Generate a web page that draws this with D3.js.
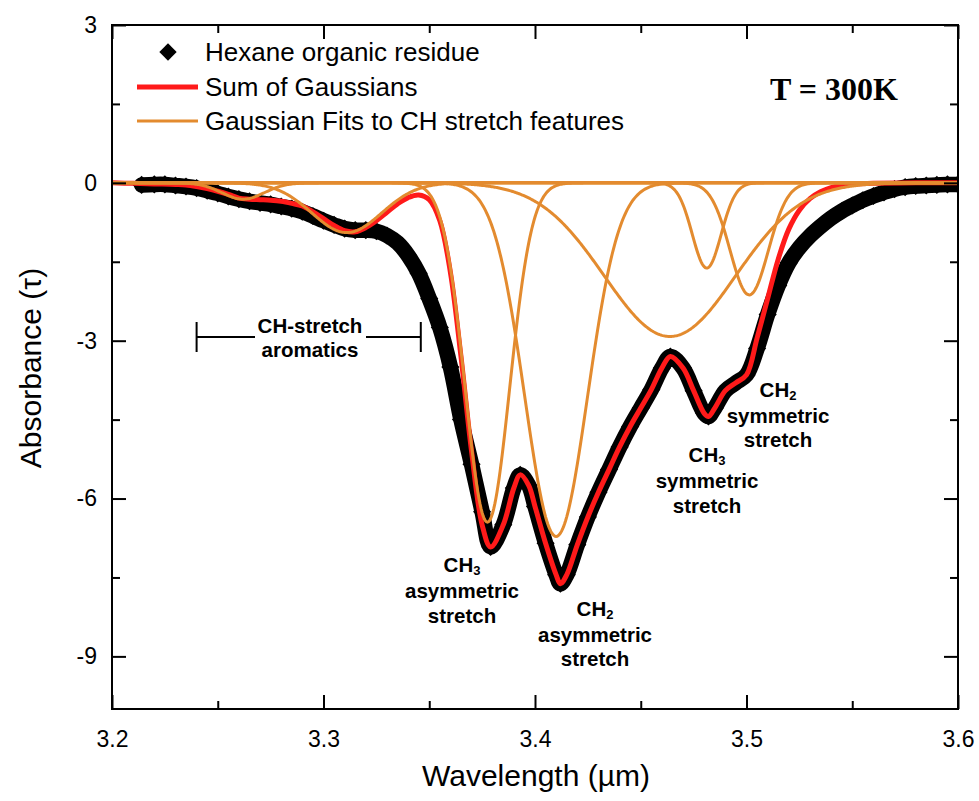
<!DOCTYPE html>
<html>
<head>
<meta charset="utf-8">
<script src="https://cdn.jsdelivr.net/npm/d3@7"></script>
<style>
  body { margin: 0; background: #fff; }
  svg { display: block; }
  text { font-family: "Liberation Sans", Arial, sans-serif; fill: #000; }
</style>
</head>
<body>
<svg id="chart" width="979" height="801"></svg>
<script>
// Measured spectrum of the hexane organic residue (optical depth vs wavelength, µm)
const dataWavelength = [3.214, 3.220, 3.225, 3.230, 3.235, 3.240, 3.245, 3.250, 3.255, 3.260,
  3.265, 3.270, 3.275, 3.280, 3.285, 3.290, 3.295, 3.300, 3.305, 3.310,
  3.315, 3.320, 3.325, 3.330, 3.335, 3.340, 3.345, 3.350, 3.355, 3.360,
  3.365, 3.370, 3.375, 3.379, 3.385, 3.390, 3.393, 3.397, 3.400, 3.405,
  3.410, 3.412, 3.415, 3.420, 3.425, 3.430, 3.435, 3.440, 3.445, 3.450,
  3.455, 3.460, 3.464, 3.470, 3.475, 3.480, 3.482, 3.485, 3.490, 3.495,
  3.500, 3.505, 3.510, 3.515, 3.520, 3.525, 3.530, 3.535, 3.540, 3.545,
  3.550, 3.555, 3.560, 3.565, 3.570, 3.575, 3.580, 3.585, 3.590, 3.595, 3.600];
const dataAbsorbance = [-0.04, -0.03, -0.03, -0.05, -0.07, -0.10, -0.15, -0.20, -0.26, -0.31,
  -0.35, -0.38, -0.41, -0.45, -0.49, -0.55, -0.63, -0.72, -0.80, -0.87,
  -0.90, -0.90, -0.92, -1.00, -1.14, -1.38, -1.72, -2.20, -2.75, -3.50,
  -4.50, -5.35, -6.25, -6.92, -6.50, -5.80, -5.55, -5.75, -6.15, -6.85,
  -7.45, -7.62, -7.45, -6.88, -6.35, -5.88, -5.45, -5.02, -4.63, -4.28,
  -3.93, -3.52, -3.30, -3.52, -3.95, -4.38, -4.44, -4.28, -3.95, -3.80,
  -3.65, -3.15, -2.50, -1.95, -1.52, -1.23, -1.01, -0.83, -0.67, -0.54,
  -0.43, -0.33, -0.25, -0.18, -0.12, -0.08, -0.06, -0.05, -0.04, -0.03, -0.03];

// Sum of the Gaussian components
const sumWavelength = [3.200, 3.210, 3.220, 3.230, 3.235, 3.240, 3.245, 3.250, 3.255, 3.260,
  3.265, 3.270, 3.275, 3.280, 3.285, 3.290, 3.295, 3.300, 3.305, 3.310,
  3.315, 3.320, 3.325, 3.330, 3.335, 3.340, 3.345, 3.350, 3.355, 3.360,
  3.365, 3.370, 3.375, 3.379, 3.385, 3.390, 3.393, 3.397, 3.400, 3.405,
  3.410, 3.412, 3.415, 3.420, 3.425, 3.430, 3.435, 3.440, 3.445, 3.450,
  3.455, 3.460, 3.464, 3.470, 3.475, 3.480, 3.482, 3.485, 3.490, 3.495,
  3.500, 3.505, 3.510, 3.515, 3.520, 3.525, 3.530, 3.535, 3.540, 3.545,
  3.550, 3.560, 3.580, 3.600];
const sumAbsorbance = [0.00, -0.01, -0.02, -0.03, -0.04, -0.07, -0.11, -0.16, -0.22, -0.29,
  -0.31, -0.32, -0.33, -0.35, -0.39, -0.44, -0.55, -0.68, -0.81, -0.91,
  -0.93, -0.85, -0.72, -0.56, -0.40, -0.28, -0.23, -0.32, -0.72, -1.70,
  -3.30, -5.10, -6.50, -6.92, -6.50, -5.80, -5.55, -5.75, -6.15, -6.85,
  -7.45, -7.62, -7.45, -6.88, -6.35, -5.88, -5.45, -5.02, -4.63, -4.28,
  -3.93, -3.52, -3.30, -3.52, -3.95, -4.38, -4.44, -4.28, -3.95, -3.80,
  -3.65, -2.95, -2.20, -1.45, -0.88, -0.52, -0.30, -0.17, -0.09, -0.04,
  -0.02, -0.01, 0.00, 0.00];

// Individual Gaussian fits to the CH stretch features: centre (µm), depth (tau), sigma (µm)
const fitCenters = [3.262, 3.311, 3.3775, 3.410, 3.4638, 3.4812, 3.5013];
const fitDepths  = [-0.31, -0.945, -6.45, -6.72, -2.92, -1.62, -2.13];
const fitWidths  = [0.0100, 0.0165, 0.0105, 0.0148, 0.031, 0.0068, 0.0090];

// Axis ticks
const xMajorTicks = [3.2, 3.3, 3.4, 3.5, 3.6];
const xTickLabels = ["3.2", "3.3", "3.4", "3.5", "3.6"];
const xMinorTicks = [3.25, 3.35, 3.45, 3.55];
const yMajorTicks = [3, 0, -3, -6, -9];
const yTickLabels = ["3", "0", "-3", "-6", "-9"];
const yMinorTicks = [1.5, -1.5, -4.5, -7.5];

const legendLabels = ["Hexane organic residue", "Sum of Gaussians", "Gaussian Fits to CH stretch features"];

const RED = "#ff1a1a";
const ORANGE = "#e38b2f";

const svg = d3.select("#chart");
const plot = { left: 112, right: 958, top: 25, bottom: 709 };

const x = d3.scaleLinear().domain([3.2, 3.6]).range([plot.left, plot.right]);
const y = d3.scaleLinear().domain([-10, 3]).range([plot.bottom, plot.top]);

svg.append("defs").append("clipPath").attr("id", "clip")
  .append("rect")
  .attr("x", plot.left).attr("y", plot.top)
  .attr("width", plot.right - plot.left).attr("height", plot.bottom - plot.top);

const layer = svg.append("g").attr("clip-path", "url(#clip)");

// Measured spectrum: heavy band of diamond markers
const spectrum = dataWavelength.map((w, i) => [w, dataAbsorbance[i]]);
const bandLine = d3.line().x(d => x(d[0])).y(d => y(d[1])).curve(d3.curveCatmullRom.alpha(0.5));
layer.append("path")
  .attr("d", bandLine(spectrum))
  .attr("fill", "none").attr("stroke", "#000")
  .attr("stroke-width", 15.5).attr("stroke-linejoin", "round").attr("stroke-linecap", "round");
const diamond = d3.symbol().type(d3.symbolSquare).size(165);
layer.selectAll("path.pt").data(spectrum).join("path")
  .attr("class", "pt")
  .attr("d", diamond)
  .attr("transform", d => `translate(${x(d[0])},${y(d[1])}) rotate(45)`)
  .attr("fill", "#000");

// Sum of Gaussians
const sumPts = sumWavelength.map((w, i) => [w, sumAbsorbance[i]]);
layer.append("path")
  .attr("d", bandLine(sumPts))
  .attr("fill", "none").attr("stroke", RED)
  .attr("stroke-width", 5).attr("stroke-linejoin", "round");

// Gaussian components
const grid = d3.range(3.2, 3.6001, 0.0005);
const gLine = d3.line().x(d => x(d[0])).y(d => y(d[1]));
fitCenters.forEach((c, k) => {
  const pts = grid.map(w => [w, fitDepths[k] * Math.exp(-((w - c) ** 2) / (2 * fitWidths[k] ** 2))]);
  layer.append("path")
    .attr("d", gLine(pts))
    .attr("fill", "none").attr("stroke", ORANGE).attr("stroke-width", 3);
});

// Axes: inward ticks on all four sides
function styleAxis(g) {
  g.select(".domain").remove();
  g.selectAll(".tick line").attr("stroke", "#000").attr("stroke-width", 2);
  g.selectAll(".tick text").style("font-size", "23px").attr("fill", "#000");
}
svg.append("g").attr("transform", `translate(0,${plot.bottom})`)
  .call(d3.axisBottom(x).tickValues(xMajorTicks).tickSize(-14).tickPadding(22)
    .tickFormat((d, i) => xTickLabels[i]))
  .call(styleAxis);
svg.append("g").attr("transform", `translate(0,${plot.bottom})`)
  .call(d3.axisBottom(x).tickValues(xMinorTicks).tickSize(-8).tickFormat(""))
  .call(styleAxis);
svg.append("g").attr("transform", `translate(0,${plot.top})`)
  .call(d3.axisTop(x).tickValues(xMajorTicks).tickSize(-14).tickFormat(""))
  .call(styleAxis);
svg.append("g").attr("transform", `translate(0,${plot.top})`)
  .call(d3.axisTop(x).tickValues(xMinorTicks).tickSize(-8).tickFormat(""))
  .call(styleAxis);
svg.append("g").attr("transform", `translate(${plot.left},0)`)
  .call(d3.axisLeft(y).tickValues(yMajorTicks).tickSize(-14).tickPadding(15)
    .tickFormat((d, i) => yTickLabels[i]))
  .call(styleAxis);
svg.append("g").attr("transform", `translate(${plot.left},0)`)
  .call(d3.axisLeft(y).tickValues(yMinorTicks).tickSize(-8).tickFormat(""))
  .call(styleAxis);
svg.append("g").attr("transform", `translate(${plot.right},0)`)
  .call(d3.axisRight(y).tickValues(yMajorTicks).tickSize(-14).tickFormat(""))
  .call(styleAxis);
svg.append("g").attr("transform", `translate(${plot.right},0)`)
  .call(d3.axisRight(y).tickValues(yMinorTicks).tickSize(-8).tickFormat(""))
  .call(styleAxis);

svg.append("rect")
  .attr("x", plot.left).attr("y", plot.top)
  .attr("width", plot.right - plot.left).attr("height", plot.bottom - plot.top)
  .attr("fill", "none").attr("stroke", "#000").attr("stroke-width", 2);

// Axis titles
svg.append("text")
  .attr("x", 536).attr("y", 786)
  .attr("text-anchor", "middle").style("font-size", "30px")
  .text("Wavelength (µm)");
svg.append("text")
  .attr("transform", "translate(41,368) rotate(-90)")
  .attr("text-anchor", "middle").style("font-size", "30px")
  .text("Absorbance (τ)");

// Legend
const legend = svg.append("g");
legend.append("path")
  .attr("d", d3.symbol().type(d3.symbolSquare).size(150)())
  .attr("transform", "translate(168,52) rotate(45)").attr("fill", "#000");
legend.append("line").attr("x1", 137).attr("x2", 198).attr("y1", 87).attr("y2", 87)
  .attr("stroke", RED).attr("stroke-width", 5);
legend.append("line").attr("x1", 137).attr("x2", 198).attr("y1", 121).attr("y2", 121)
  .attr("stroke", ORANGE).attr("stroke-width", 3);
[52, 87, 121].forEach((ly, i) => {
  legend.append("text").attr("x", 205).attr("y", ly).attr("dy", "0.35em")
    .style("font-size", "26px").text(legendLabels[i]);
});

svg.append("text")
  .attr("x", 834).attr("y", 100).attr("text-anchor", "middle")
  .style("font-family", "'Liberation Serif', 'Times New Roman', serif")
  .style("font-weight", "bold").style("font-size", "32px")
  .text("T = 300K");

// Band annotations
function bandLabel(cx, baselines, lines) {
  const g = svg.append("g").style("font-weight", "bold").style("font-size", "20.5px");
  lines.forEach((ln, i) => {
    const t = g.append("text").attr("x", cx).attr("y", baselines[i]).attr("text-anchor", "middle");
    if (Array.isArray(ln)) {
      t.append("tspan").text(ln[0]);
      t.append("tspan").attr("dy", 3).style("font-size", "13px").text(ln[1]);
    } else {
      t.text(ln);
    }
  });
}
bandLabel(462, [572, 598, 623], [["CH", "3"], "asymmetric", "stretch"]);
bandLabel(595, [616, 642, 666], [["CH", "2"], "asymmetric", "stretch"]);
bandLabel(707, [462, 488, 513], [["CH", "3"], "symmetric", "stretch"]);
bandLabel(778, [397, 423, 447], [["CH", "2"], "symmetric", "stretch"]);

// Aromatic CH-stretch range marker
const aro = svg.append("g").attr("stroke", "#000").attr("stroke-width", 2);
const aroY = y(-2.93);
aro.append("line").attr("x1", x(3.2400)).attr("x2", x(3.2400)).attr("y1", aroY - 15).attr("y2", aroY + 15);
aro.append("line").attr("x1", x(3.3460)).attr("x2", x(3.3460)).attr("y1", aroY - 15).attr("y2", aroY + 15);
aro.append("line").attr("x1", x(3.2400)).attr("x2", 255).attr("y1", aroY).attr("y2", aroY);
aro.append("line").attr("x1", 366).attr("x2", x(3.3460)).attr("y1", aroY).attr("y2", aroY);
svg.append("text").attr("x", 310).attr("y", 333).attr("text-anchor", "middle")
  .style("font-weight", "bold").style("font-size", "20.5px").text("CH-stretch");
svg.append("text").attr("x", 310).attr("y", 357).attr("text-anchor", "middle")
  .style("font-weight", "bold").style("font-size", "20.5px").text("aromatics");
</script>
</body>
</html>
